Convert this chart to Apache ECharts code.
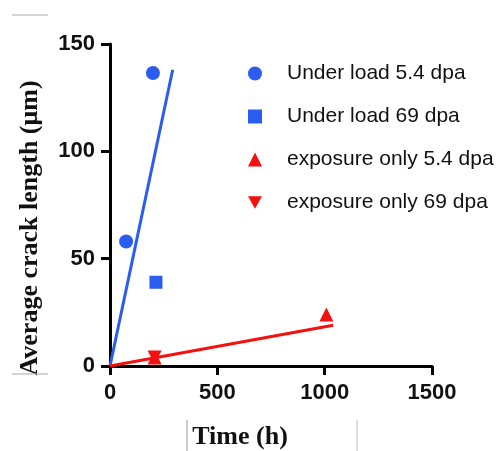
<!DOCTYPE html>
<html lang="en">
<head>
    <meta charset="UTF-8">
    <title>Average crack length</title>
    <style>
        html, body { margin: 0; padding: 0; background: #fff; }
        #main { width: 499px; height: 451px; }
    </style>
</head>
<body>
    <div id="main"></div>
    <script src="https://cdn.jsdelivr.net/npm/echarts@6/dist/echarts.min.js"></script>
    <script>
        // data
        var seriesNames = ['Under load 5.4 dpa', 'Under load 69 dpa', 'exposure only 5.4 dpa', 'exposure only 69 dpa'];
        var load54 = [[75, 58], [200, 136.5]];
        var load69 = [[214, 39]];
        var expo54 = [[208, 4], [1008, 24]];
        var expo69 = [[208, 4]];
        // fitted lines
        var fitBlue = [[0, 0], [292, 138]];
        var fitRed = [[0, 0], [1040, 19]];

        var blue = '#2b5cf0';
        var red = '#f51010';
        var downTri = 'path://M0,0 L10,0 L5,9 Z';

        var mChart = echarts.init(document.getElementById('main'));
        var option = {
            animation: false,
            grid: { left: 110, right: 67, top: 44, bottom: 85 },
            legend: {
                data: seriesNames,
                orient: 'vertical',
                left: 243,
                top: 58,
                itemWidth: 14,
                itemHeight: 14,
                itemGap: 22,
                textStyle: { fontFamily: 'Liberation Sans, Arial', fontSize: 21, color: '#111', padding: [0, 0, 0, 20] }
            },
            xAxis: {
                type: 'value',
                min: 0, max: 1500, interval: 500,
                axisLine: { lineStyle: { color: '#000', width: 3 } },
                axisTick: { show: true, length: 9, lineStyle: { color: '#000', width: 3 } },
                axisLabel: {
                    margin: 16, fontFamily: 'Liberation Sans, Arial', fontWeight: 'bold', fontSize: 22, color: '#111',
                    formatter: function (v) { return String(v); }
                },
                splitLine: { show: false }
            },
            yAxis: {
                type: 'value',
                min: 0, max: 150, interval: 50,
                axisLine: { show: true, lineStyle: { color: '#000', width: 3 } },
                axisTick: { show: true, length: 9, lineStyle: { color: '#000', width: 3 } },
                axisLabel: { margin: 15, fontFamily: 'Liberation Sans, Arial', fontWeight: 'bold', fontSize: 22, color: '#111' },
                splitLine: { show: false }
            },
            graphic: [
                {
                    type: 'text', x: 30, y: 228, rotation: Math.PI / 2,
                    style: {
                        text: 'Average crack length (μm)', font: 'bold 26px "Liberation Serif", "Times New Roman"',
                        fill: '#111', align: 'center', verticalAlign: 'middle'
                    }
                },
                {
                    type: 'text', x: 240, y: 437,
                    style: {
                        text: 'Time (h)', font: 'bold 26px "Liberation Serif", "Times New Roman"',
                        fill: '#111', align: 'center', verticalAlign: 'middle'
                    }
                },
                { type: 'line', shape: { x1: 12, y1: 15, x2: 48, y2: 15 }, style: { stroke: '#aaa', lineWidth: 1 } },
                { type: 'line', shape: { x1: 12, y1: 374, x2: 48, y2: 374 }, style: { stroke: '#aaa', lineWidth: 1 } },
                { type: 'line', shape: { x1: 187, y1: 420, x2: 187, y2: 451 }, style: { stroke: '#999', lineWidth: 1 } },
                { type: 'line', shape: { x1: 357, y1: 420, x2: 357, y2: 451 }, style: { stroke: '#bbb', lineWidth: 1 } }
            ],
            series: [
                {
                    type: 'line', data: fitBlue, symbol: 'none',
                    lineStyle: { color: blue, width: 3 }, silent: true
                },
                {
                    type: 'line', data: fitRed, symbol: 'none',
                    lineStyle: { color: red, width: 3 }, silent: true
                },
                {
                    name: seriesNames[0], type: 'scatter', data: load54,
                    symbol: 'circle', symbolSize: 14, itemStyle: { color: blue, opacity: 1 }
                },
                {
                    name: seriesNames[1], type: 'scatter', data: load69,
                    symbol: 'rect', symbolSize: 13, itemStyle: { color: blue, opacity: 1 }
                },
                {
                    name: seriesNames[2], type: 'scatter', data: expo54,
                    symbol: 'triangle', symbolSize: 14, itemStyle: { color: red, opacity: 1 }
                },
                {
                    name: seriesNames[3], type: 'scatter', data: expo69,
                    symbol: downTri, symbolSize: 14, itemStyle: { color: red, opacity: 1 }
                }
            ]
        };
        mChart.setOption(option);
    </script>
</body>
</html>
